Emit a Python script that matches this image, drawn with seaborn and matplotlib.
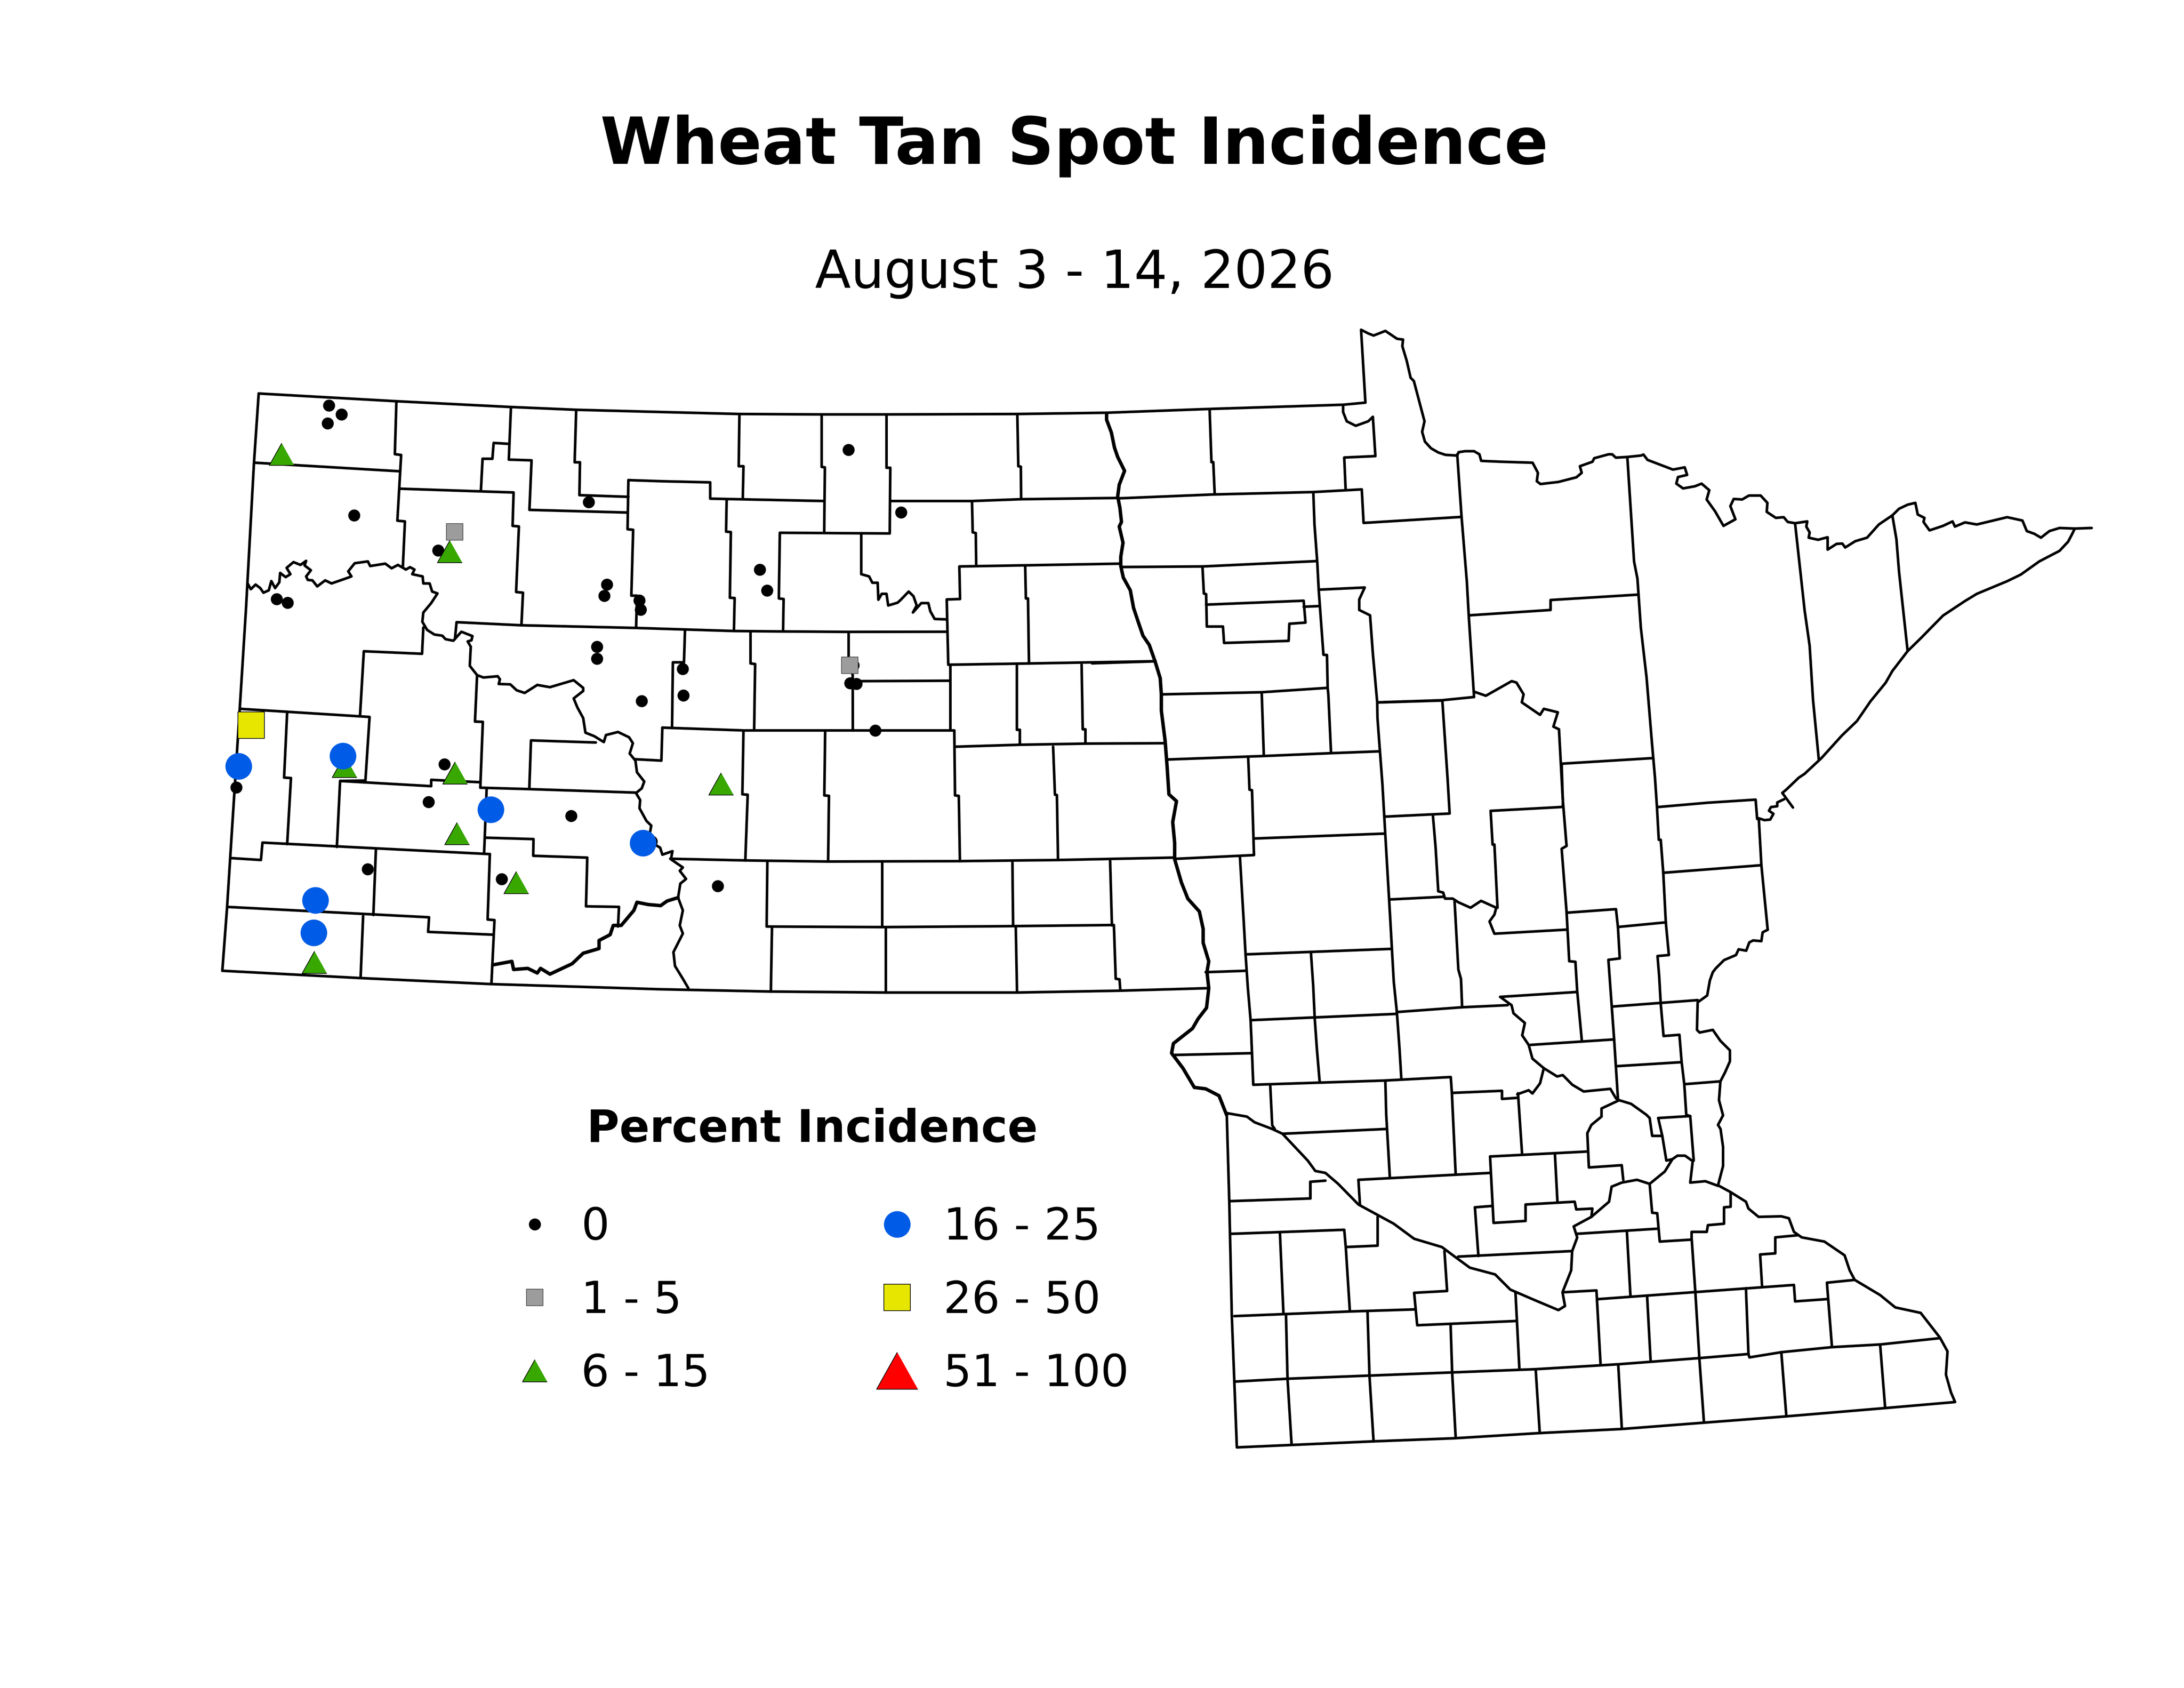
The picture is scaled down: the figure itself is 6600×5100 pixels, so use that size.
from matplotlib import pyplot as plt
from matplotlib.lines import Line2D
import pandas as pd
import seaborn as sns

# everything below is measured off the map, in a 1556 x 1202.4 page frame
title = 'Wheat Tan Spot Incidence'
subtitle = 'August 3 - 14, 2026'
legend_title = 'Percent Incidence'
class_labels = ['0', '1 - 5', '6 - 15', '16 - 25', '26 - 50', '51 - 100']

# state outline
north_border = [(184.3,280.3),(282.4,285.8),(363.6,289.9),(410.5,291.9),(471.5,293.5),(526.8,294.9),(585.4,295.2),(631.6,295.2),(724.8,294.9),(788.4,294),(861.8,291.3),(956.9,288.3),(972.8,286.8),(969.7,234.9),
    (974.8,237.5),(978.6,239),(982.5,237.5),(987,235.7),(995.3,241.3),(999.6,241.9),(999.1,246.6),(1002.2,256.9),(1005,269.1),(1007.3,271.4),(1014.9,300.1),(1013.2,307.6),(1015.2,314.6),(1019.5,319.3),(1024.7,322.3),(1029.8,324),(1038.2,324.5),(1039.2,322.1),(1043.8,321.4),(1050.2,321.4),(1054,323.6),(1055.3,328.3),(1069.4,328.9),(1091.9,329.6),(1095.7,336.8),(1094.9,342.8),(1097.5,344.8),(1110.3,343.3),(1123.1,340),(1126.9,336.8),(1125.6,332.1),(1134.6,328.9),(1135.8,326.4),(1146.1,323.6),(1148.6,323.6),(1151.2,326),(1159.4,325.5),(1169.1,324.5),(1170.9,323.8),(1173.8,327.6),(1191.9,334.5),(1200.3,332.9),(1202,338.3),(1195.5,339.8),(1194.3,344.5),(1199.1,347.9),(1207.5,346.4),(1212.3,344.5),(1217.8,349.2),(1215.9,355.8),(1221.9,364.2),(1227.9,374.6),(1236.4,369.9),(1232.8,360.5),(1235.2,355.4),(1241.2,355.8),(1246,353),(1254.4,353),(1259.2,358.2),(1258.7,364.6),(1265.2,368.9),(1270.8,368.4),(1273.7,371.8),(1278.9,372.7),(1287.6,371.4),(1286.9,375.1),(1289.3,379.3),(1288.6,383),(1295.3,384.5),(1302.1,382.7),(1302.1,391.5),(1308.5,387.4),(1312.6,387.2),(1314.6,390),(1321.8,385.5),(1330.2,383),(1338.6,373.6),(1348.2,367.1),(1353,362.4),(1359.1,359.5),(1364.6,358.2),(1366.3,366.5),(1371.1,368.9),(1370.4,371.8),(1374.7,377.8),(1384.3,374.6),(1391.1,371.4),(1392.8,375.1),(1400,372.1),(1408.4,373.6),(1430,368.4),(1440.9,370.8),(1444,378.3),(1449.3,380.2),(1454.1,383),(1460.1,378.3),(1467.3,376.1),(1478.2,376.5),(1490.2,376.1)]
lake_shore = [(1478.2,376.5),(1476,381),(1473.4,385.9),(1467.3,392.4),(1452.9,399.9),(1439.7,409.3),(1430,414),(1408.4,423),(1400,428.1),(1384.3,438.5),(1368.7,454.4),(1359.1,463.8),(1348.2,478),(1343.4,486.4),(1332.6,499.6),(1323,513.6),(1312.2,524),(1297.7,540),(1285.7,551.2),(1281.5,554),(1272.5,562.6),(1269.8,564.8),(1277.4,575.2)]
carlton_shore = [(1271.1,569.3),(1266.2,571.6),(1266.2,574.3),(1261.7,574.9),(1260.3,577.5),(1263.5,579.7),(1261.2,583.8),(1257.1,584.2),(1253.1,582.9)]
west_border = [(184.3,280.3),(180.9,330.4),(175.3,433),(170.8,504.9),(164,611.2),(161.8,646),(158.4,691.5)]
south_border = [(158.4,691.5),(256.9,696.7),(350.1,701),(471.5,704.7),(549.2,706.3),(631.2,707),(724.6,707),(797.6,705.7),(860.7,703.9)]
mn_south_west = [(874,793.5),(875.8,856),(877.6,937.2),(881.2,1031),(978.6,1026.7),(1036.4,1024.5),(1097,1020.8),(1155.5,1017.9),(1214,1013.4),(1272.7,1008.9),(1343.1,1003),(1392.9,998.7),(1390,991.9),(1386.4,979.2),(1387.5,962.6),(1382.1,952.8),(1368.4,935.2),(1350.3,931.3),(1339.5,922.5),(1321.4,911.7),(1317.8,904.9),(1314.2,894.2),(1299.8,884.4),(1283.6,881.4),(1278.1,877.5),(1274.5,867.8),(1269.1,866.4),(1252.9,866.8),(1245.7,860.9),(1243.9,856),(1233,849.2),(1224,844.3)]
st_croix = [(1224,844.3),(1227.6,830.6),(1227.6,817),(1225.8,804.2),(1224,801.3),(1227.6,794.5),(1224.7,783.7),(1225.7,770.3),(1229,763.9),(1232.5,756),(1232.5,748.2),(1225.7,741.4),(1220.3,733.6),(1210.9,735.5),(1209,733.6),(1209.5,714),(1216.3,709.1),(1218.2,698.4),(1220.3,692.5),(1222.4,689.8),(1228.3,683.9),(1236.8,680.3),(1238.7,676.2),(1244.1,677.2),(1246.3,671.3),(1249,669.9),(1254.9,670.4),(1255.8,664.1),(1259.4,662.3)]
red_river = [(788.4,294.4),(788.4,299),(791.8,308.1),(794,318.8),(796.3,325.5),(801.2,335.4),(797.4,345.3),(796.3,353.6),(797.9,361.8),(799,371.8),(797.4,375.1),(800.1,386.6),(798.5,396.6),(798.5,403.2),(800.3,411.4),(805.3,420.5),(807.6,433),(810.9,442.9),(814.3,452.8),(818.8,459.4),(822.9,471),(826.6,483.1),(827.4,494.7),(827.4,506.2),(830.1,527.7),(831.5,545.9),(832.8,565.8),(838.2,570.7),(835.5,585.6),(836.9,600.5),(836.9,612.1),(841.7,628.6),(846.3,640.2),(854.5,649.3),(857.2,661.7),(857.2,671.6),(861.2,684.8),(859.9,692.3),(861.2,703.9),(859.6,717.9),(853.6,725.7),(849.6,732.6),(836,743.3),(834.7,750.2),(842.8,760.9),(850.9,774.6),(859,775.6),(868.5,780.5),(873.9,794.2)]
outline_lines = [north_border, lake_shore, carlton_shore, west_border, south_border, mn_south_west, st_croix]

# rivers that split counties
missouri_river = [(176.4,415.6),(178.7,419.7),(182.1,416.4),(185.4,418.9),(187.7,422.2),(191.5,420.5),(193.3,413.9),(196,418.9),(199,414.8),(199.6,408.1),(203.5,411.1),(206.9,409),(204.2,404.5),(209.1,400.4),(214.1,402.4),(218.1,399.5),(217,402.8),(221.5,406.2),(218.1,410.6),(219.3,413.1),(222.6,413.4),(226,417.7),(231.7,413.4),(236.2,415.6),(245.7,412.3),(250.4,410.6),(248.1,407),(252.7,401.2),(262.1,399.9),(263.7,403.2),(274.5,401.5),(279,404.8),(283.5,402.4),(289.2,405.7),(292.1,404),(295.3,405.7),(293.7,409),(301.1,410.6),(301.6,415.6),(306.1,415.6),(307.9,421.4),(311.7,422.7),(307.2,429.6),(301.6,436.3),(300.9,442.9),(304.3,448.7),(309.5,452),(315.1,452.8),(317.4,455.3),(323,456.4),(328.7,450),(336.6,453.1),(335.9,456.1),(333.2,456.9),(335.4,460.7),(334.7,474.3),(339.9,480.9),(344.4,482.6),(354.6,481.7),(356.2,483.9),(355.3,487.2),(363.6,487.5),(368.1,491.7),(373.8,493.6),(382.8,487.9),(391.8,489.5),(408.7,484.5),(415.5,490),(415.5,492.2),(408.7,497.5),(411.4,504),(415.5,511.5),(417.1,521.9),(423.4,524.4),(430.2,528.6),(431.7,523.6),(440.3,521.4),(448.2,525.2),(450.9,529.4),(448.6,536.8),(452.7,541.8),(453.8,550.1),(459,556.7),(457.2,561.6),(453.1,564.9),(456.1,569.9),(455.6,575.7),(460.6,584.8),(464,588.1),(462.9,593.9),(467.4,602.1),(470.3,603.8),(471.9,608.8),(479.1,606.3),(478,612.1),(486.5,617.9),(484.3,620.3),(488.8,626.1),(484.7,629.4),(483.1,639.4),(486.5,648.5),(484.3,659.2),(486.5,665),(479.8,678.2),(480.9,688.1),(486.5,697.2),(490.4,703.9)]
cannonball_river = [(351.2,687.3),(364.7,684.8),(365.9,690.6),(376,689.8),(382.8,693.1),(385.1,689.8),(391.8,693.9),(407.6,686.5),(415.5,679),(426.8,675.7),(426.8,669.9),(434.7,665.8),(436.9,659.2),(442.6,659.2),(451.6,648.5),(453.8,642.7),(461.7,644.3),(470.7,645.1),(475.3,641.8),(483.1,639.4)]
sheyenne_river = [(613.6,380.5),(613.6,409),(619.2,410.6),(621.5,415.1),(625.3,415.1),(625.8,427.2),(628.2,423),(631.6,423),(632.8,431.3),(639.5,429.3),(641.8,427.2),(647.4,421.4),(650.8,424.7),(653.1,431.3),(650.4,436.3),(656.4,429.6),(661.4,429.6),(662.8,435.4),(665.9,440.9),(674,441.2)]
minnesota_river = [(874,792.9),(888.4,795.4),(893.8,799.4),(906.4,804.2),(913.7,807.6),(931.7,826.7),(937.1,834.1),(944.3,835.5),(953.4,843.3),(967.8,858),(984,866.8),(993,871.7),(1007.5,882.4),(1027.3,888.3),(1036.4,895.1),(1047.2,903),(1065.2,907.8),(1076,918.6),(1094.1,926.4),(1110.3,933.2),(1115,930.3),(1113.2,920.5),(1119.4,904.9),(1120.1,891.2),(1123.7,881.5),(1121.2,873.6),(1133.8,866.8),(1146.4,856),(1148.2,845.3),(1155.4,842.4),(1166.3,840.4),(1175.3,843.3),(1186.1,834.5),(1191.5,825.7),(1195.1,823.2),(1200.5,823.2),(1206,827.1),(1204.2,842.4),(1215,841.4),(1224,844.7)]
mississippi_river = [(1068.8,710.1),(1076.9,716),(1078.3,721.8),(1086.4,728.7),(1084.5,737.5),(1089.1,744.3),(1091.8,754.1),(1099.9,760.9),(1109.4,766.8),(1113.4,765.8),(1120.2,772.7),(1128.3,777.5),(1147.3,775.6),(1151.3,782.4),(1153.6,783.7),(1162.1,786.3),(1173,794.1),(1175.3,796.4),(1177.1,809.1),(1184.3,809.1),(1187.2,826.7),(1191.5,825.7)]
crow_river = [(1081,779.5),(1089.1,776.6),(1091.8,778.9),(1097.2,771.7),(1099.9,760.9)]
metro_loop = [(1153.6,783.7),(1141,789.6),(1141,795.4),(1133.8,801.3),(1130.9,807.2),(1132,831.6),(1155.4,830),(1156.5,840.4)]
wadena_river = [(1050.2,492.7),(1058.6,495.6),(1077,485.2),(1080.4,486.2),(1085.5,494.6),(1084.2,500.3),(1097.2,509.2),(1099.9,504.9),(1109.9,507.4),(1106.7,517.6),(1110.7,519.5)]
mille_lacs_river = [(1024.7,634.9),(1028.2,635.8),(1029.5,640.1),(1035,640.1),(1039,642.7),(1047.7,646.6),(1055.2,641.7),(1066,646.6),(1064.7,651.5),(1061.2,656.4),(1064.7,665.1),(1116.1,662.2)]
river_lines = [missouri_river, sheyenne_river, minnesota_river, mississippi_river, crow_river, metro_loop, wadena_river, mille_lacs_river]
jagged_lines = [red_river, cannonball_river]

# North Dakota county lines
nd_county_lines = [
    [(181.6,329.6),(284.7,335.7)],
    [(282.4,286.6),(281.3,323.5),(285.8,324.1),(283.1,370.9),(288.5,371.4),(287,404)],
    [(284.7,348.1),(365.9,350.8),(365.2,374.6),(369.7,375),(367.7,421.7),(372.6,422.2),(371.5,445.4)],
    [(342.6,349.9),(343.8,326.8),(350.8,326.8),(351.7,315.5),(363,316.2)],
    [(364,290.7),(362.5,327.4),(378.7,327.9),(377.2,363.2),(447.1,365.1)],
    [(410.5,292.4),(409.4,329.3),(413.2,329.3),(412.8,352.7),(447.7,353.9)],
    [(447.7,342),(471.5,342.8),(506,343.6),(506,355.2),(587.2,356.9)],
    [(447.7,342),(447.1,377),(451.1,377.4),(449.8,424.3),(453.8,424.3),(453.2,447)],
    [(301.6,447),(300.7,465.7),(259.2,463.9),(256.5,509.8)],
    [(170.8,504.9),(263.3,510.7),(260.3,556.7)],
    [(204.6,507),(202.4,553.9),(207.3,554.2),(204.6,601.3)],
    [(324.1,455.3),(325.3,443.2),(371.5,445.4),(453.2,447.3),(523.4,449.5),(558.3,449.8),(604.6,450.1),(673.8,450)],
    [(339.9,480.9),(338.4,514),(344,514.2),(342.2,560.8)],
    [(260.3,556),(242.3,556.3),(307.2,560),(307.2,555.5),(342.2,557.2)],
    [(342.2,561.1),(377.1,562.1),(453.1,564.6)],
    [(377.1,562.1),(378.3,527.4),(424.5,528.9)],
    [(242.3,556.3),(240,603.3)],
    [(164,611.2),(185.9,612.6),(187,600.2),(349,608.4)],
    [(346.7,562.1),(344.9,607.9)],
    [(345.6,596.7),(380.1,597.7),(379.9,609.6),(418.4,610.9),(417.5,645.6),(441,646),(440.3,660)],
    [(267.8,605.5),(266,651.8)],
    [(161.8,646),(305.7,653.4),(305,663.8),(351.2,665.8)],
    [(349,608.4),(347.4,655),(352.3,655.4),(350.1,701)],
    [(258.7,652.6),(256.9,696.7)],
    [(477.5,611.7),(531,612.9),(590,613.7),(683.9,613.4),(753.8,612.6),(835.5,610.9)],
    [(526.8,295.4),(526.3,332.1),(529.7,332.1),(529.2,354.9)],
    [(585.4,295.4),(585.4,332.6),(587.7,332.9),(587.2,379.2)],
    [(631.6,295.4),(631.6,333.2),(634.3,333.2),(633.9,380),(555.6,379.5),(554.9,426.3),(558.3,426.7),(557.9,449.5)],
    [(517.7,356),(517.3,378.7),(520.7,379),(520,425.8),(523.4,426),(522.9,449)],
    [(634.3,356.9),(692.5,356.9),(727.5,355.6),(796.3,354.7)],
    [(692.5,356.9),(693,379.2),(695.2,379.7),(695.5,402.9)],
    [(724.8,295.2),(725.5,332.1),(727.3,332.4),(727.5,355.6)],
    [(798.5,401.5),(683.5,403.5),(684,426.7),(674.5,427),(675.6,473.5),(733.1,472.6),(823.3,471)],
    [(730.4,403.2),(730.9,426.3),(732.4,426.3),(733.1,472.6)],
    [(604.6,450.1),(604.6,468),(607.5,480.9),(607.6,520.3)],
    [(534.7,450.3),(534.7,472.6),(538,473),(537.3,519.5)],
    [(488,449.5),(487.3,471.8),(479.4,471.8),(478.8,518.6)],
    [(611.3,485.2),(676.3,484.9)],
    [(471.9,518.3),(529.7,520.3),(607.6,520.3),(679.9,520.3),(680.4,566.6),(683.1,566.9),(683.9,613.4)],
    [(471.9,518.3),(471.2,541.8),(452.3,540.8)],
    [(529.7,520.3),(528.9,565.8),(532.7,566.1),(531,612.9)],
    [(587.9,520.6),(587.3,566.6),(590.6,566.9),(590,613.4)],
    [(677.2,474),(677.2,520.3)],
    [(680.4,531.9),(726.7,530.5),(773.3,529.7),(828.8,529.4)],
    [(724.5,474),(724.5,519.8),(726.7,519.8),(726.7,530.5)],
    [(770.6,473.5),(771.4,519.5),(773.3,519.5),(773.3,529.7)],
    [(750.3,531.9),(751.6,566.1),(753,566.3),(753.8,612.6)],
    [(546.7,613.7),(546.2,660),(628.5,660.4),(721.8,659.7),(793.6,658.9),(794.9,697.2),(797.6,697.6),(798.2,705.5)],
    [(628.5,614.5),(628.5,660.4)],
    [(721.3,614.5),(721.8,659.7)],
    [(790.9,613.2),(792.2,659.2)],
    [(550,660.9),(549.2,706.3)],
    [(631.2,661.7),(631.2,707)],
    [(723.7,660.9),(724.6,707)],
]

# Minnesota county lines
mn_county_lines = [
    [(861.8,291.7),(863.1,329.2),(864.4,329.2),(865.4,351.8)],
    [(796.3,355),(864.9,352.2),(935.7,350.5),(970.2,348.6),(971.5,372.5),(1041.3,368.2)],
    [(956.9,288.3),(956.9,293.5),(959.5,300.1),(965.9,303.3),(974.8,300.1),(978.1,296.9),(979.9,324.9),(957.7,325.9),(958.7,348.6)],
    [(1038.2,323.6),(1041.3,368.2),(1045.1,414.8),(1046.4,438.3),(1050.2,496.5)],
    [(935.7,351.4),(936.5,373.4),(938.5,400.7),(939.5,420),(942.9,466.4),(945.4,466.6),(945.9,489.9),(946.4,495.1),(948.3,536.1)],
    [(798.5,403.9),(856.7,403.5),(937.8,399.7)],
    [(856.7,403.5),(857.7,422.8),(859.3,423.2),(859.8,446.3),(871.3,446.3),(872.1,458),(918.1,456.5),(918.6,444.3),(930.1,443.5),(928.8,427.9),(859.3,430.7)],
    [(928.8,432.2),(940.3,431.7)],
    [(940.3,420),(972.3,418.5),(968.4,427),(968.4,434.5),(976.1,438.3),(978.1,465.5),(981.2,500.3),(981.4,511.7),(984.9,558.6),(987.6,605.5),(990.3,651.5),(993,699.4),(995.2,720.9),(997.1,747.2),(998.4,768.7)],
    [(1046.9,438.3),(1104.7,434.5),(1104.7,427.4),(1166.5,423.6)],
    [(1159.4,325.5),(1164.2,400),(1166.6,412.2),(1169,446.9),(1173.1,482.6),(1176.9,528.7),(1179.1,554),(1180.5,574.8),(1181.8,598.2),(1183.2,598.2),(1185,621.7),(1186.8,656.9),(1189,680.3),(1180.9,681),(1182.1,695.5),(1183.2,715),(1185.2,738),(1196.5,737.1),(1198.1,756.6),(1200,772.6),(1201.4,794.2),(1204.2,795),(1206.7,826.7)],
    [(1112.6,544),(1177.8,540)],
    [(1180.9,574.9),(1216.6,571.8),(1250.8,569.6),(1251.9,583.3),(1253.1,583.8),(1254.9,616.3),(1259.4,662.3)],
    [(1185,621.7),(1254.9,616.3)],
    [(1278.9,372.7),(1285.7,434.7),(1289.3,460.1),(1291.7,498.6),(1295.8,540.9)],
    [(1348.2,367.1),(1351.1,384),(1353,407.5),(1359.1,463.8)],
    [(822.7,471.1),(778,472.5)],
    [(827.8,494.6),(898.9,493.1),(945.4,490)],
    [(832,541),(901,538.5),(948.3,536.5),(982.7,535.2)],
    [(898.9,493.1),(900.4,538.1)],
    [(981.2,500.3),(1027.2,498.8),(1050.2,496.5)],
    [(1027.6,499),(1031.4,555.7),(1032.8,579.5),(986.8,581.7)],
    [(889.3,540),(890.2,562.5),(892,562.9),(893.4,609.1),(836.6,611.8)],
    [(893.4,597.3),(986.2,593.8)],
    [(1020.9,581.1),(1022.8,603.6),(1024.7,634.9)],
    [(1110.7,519.5),(1113.4,569.4),(1116.1,602.6),(1112.6,604.6),(1116.1,649.5),(1118,684.7),(1122.4,685.1),(1123.7,706.2),(1127,741.4)],
    [(1062,577.6),(1113.4,574.8)],
    [(1062,577.6),(1063.4,601.6),(1064.7,601.6),(1066.9,646.6)],
    [(990.3,640.7),(1028.2,638.8)],
    [(1036.3,641.7),(1039,690.6),(1040.9,697.4),(1041.7,717.5)],
    [(1116.9,650.1),(1151.3,647.6),(1152.7,660.3),(1154,682.7),(1145.9,683.7),(1147.8,710.1),(1150,740.4),(1152.7,782.4)],
    [(1152.7,660.3),(1187,657)],
    [(1068.8,710.1),(1123.7,706.6)],
    [(995.2,720.9),(1041.7,717.5),(1074.2,716)],
    [(1090.4,744.3),(1150,740.4)],
    [(1148.6,717),(1209.5,712.4)],
    [(1152.7,759.4),(1198.1,756.6)],
    [(1200,772.3),(1225.2,770.3)],
    [(888,679.8),(991.1,675.9)],
    [(934,678.8),(935.6,702.3),(936.7,725.8),(938.3,748.2),(940.2,770.7)],
    [(883.4,610.4),(886.1,656.4),(887.4,679.8),(889,703.3),(891,726.7),(892,750.2),(892.9,772.7),(986.2,769.7),(1033.6,767.2),(1034.4,778.5),(1070.1,777),(1070.1,782.8),(1081,782)],
    [(859,692.5),(888,691.5)],
    [(891,726.7),(995.2,722.2)],
    [(836,751.5),(892,750.2)],
    [(905,773.6),(906.4,801.6),(908.2,804.2)],
    [(987,770),(987.6,793.5),(990.2,838.8)],
    [(1034.4,778.5),(1037.1,836.5)],
    [(1081.5,778.8),(1084.4,821.8)],
    [(913.7,807.6),(987.6,804.2)],
    [(967.8,840.4),(1061.6,835.5)],
    [(967.8,840.4),(968.9,858)],
    [(1061.6,823.8),(1130.2,820.3)],
    [(1061.6,823.8),(1064.1,871.1),(1086.9,869.7),(1086.9,858),(1121.9,856),(1123,861.5),(1134.5,860.9),(1133.8,866.8)],
    [(1107.8,821.8),(1109.6,856)],
    [(1050.8,860),(1063.4,859)],
    [(1050.8,860),(1053.3,894.7)],
    [(1038.9,895.1),(1119.4,891.2)],
    [(981.5,866.8),(981.5,887.3),(958.8,888.3),(957.7,876),(876.8,878.9)],
    [(911.9,878.5),(914.4,935.8)],
    [(958.8,888.3),(961.7,933.8)],
    [(876.1,855.6),(933.5,853.7),(933.5,841.8),(944.3,841)],
    [(879.4,937.5),(961.3,934.2),(1008.6,932.7)],
    [(1029.1,891.2),(1031,919.6),(1007.5,920.9),(1009.7,944),(1079.7,941)],
    [(974.3,934.6),(975.7,980.2),(978.6,1026.7)],
    [(916.2,936.6),(917.3,982.1),(920.2,1029)],
    [(880.5,984.1),(917.3,982.1),(1034.6,977.6),(1094.1,975.3),(1152.9,971.8),(1210.7,967.4),(1245.7,964.5),(1246.4,966.9),(1269.1,963.2),(1305.2,959.6),(1339.5,957.7),(1382.1,953.2)],
    [(1033.5,944),(1034.6,977.6),(1037.1,1024.1)],
    [(1094.1,975.3),(1097,1020.8)],
    [(1152.9,971.8),(1155.5,1017.9)],
    [(1210.7,967.4),(1214,1013.4)],
    [(1269.1,963.2),(1272.7,1008.9)],
    [(1339.5,957.7),(1343.1,1003)],
    [(1079.7,920.5),(1082.5,975.3)],
    [(1113.9,920.5),(1137.4,919.2),(1140.3,971.4)],
    [(1138.5,925.4),(1278.1,915.3),(1278.9,927),(1301.6,925.4)],
    [(1173.5,923.5),(1176,969.4)],
    [(1159.1,877.5),(1161.6,922.9)],
    [(1123,878.9),(1181.4,875.2)],
    [(1175.3,843.3),(1177.1,863.9),(1180.7,864.2),(1182.5,884.4),(1205.3,883),(1207.8,919.6),(1210.7,967.4)],
    [(1205.3,877.5),(1216,877.5),(1216.8,872.7),(1228.3,871.7),(1228.3,860),(1233,859.6),(1233,849.2)],
    [(1243.9,917.6),(1245.7,964.5)],
    [(1255.4,916.2),(1254,893.6),(1264.8,892.8),(1264.8,881.4),(1280.7,879.9)],
    [(1301.6,913.7),(1321.4,911.7)],
    [(1301.6,913.7),(1305.2,959.6)],
    [(1181.4,796.4),(1204.2,795)],
    [(1181.4,796.4),(1184.3,809.1)],
    [(1205.3,883),(1205.3,877.5)],
    [(933.5,841.8),(933.5,853.7)],
    [(1113.4,574.8),(1113.4,569.4)],
    [(981.4,500.4),(1027.6,499)],
    [(1112.6,544),(1113.4,569.4)],
]

# survey points, one pair of lists for each incidence class
zero_x = [234.4,243.4,233.3,252.2,312.2,419.3,432.4,430.4,455.4,456.5,197,204.8,425.4,425.2,457.2,486.3,486.8,604.6,642,541.4,546.6,605.7,610.2,608,623.6,511.3,168.3,316.7,305.4,407,261.9,357.3,464.2]
zero_y = [288.9,295.2,301.6,367.1,392.1,357.7,416.4,424.4,427.7,434.3,426.8,429.3,460.7,469.2,499.4,476.4,495.3,320.5,365,405.7,420.5,486.7,487.2,473.8,520.3,631.1,560.8,544.3,571.2,581.1,619.2,626.1,599.2]
low_x = [323.9,605.5]
low_y = [378.9,474]
mid_x = [200.6,320.3,245.4,324.1,325.5,367.7,224,513.7]
mid_y = [323.4,392.9,545.9,550.4,593.7,628.6,685.3,558.2]
high_x = [169.9,244.3,349.6,458.1,224.7,223.6]
high_y = [545.9,538.6,576.7,600.5,641.3,664.5]
severe_x = [178.9]
severe_y = [516.5]

tri = [(0, 0.447), (-0.5, -0.447), (0.5, -0.447)]
class_colors = ['#000000', '#9C9C9C', '#38A800', '#005CE6', '#E6E600', '#FF0000']
class_edges = ['#000000', '#4E4E4E', '#000000', '#005CE6', '#000000', '#000000']
class_markers = ['o', 's', tri, 'o', 's', tri]
class_sizes = [4.1, 6.1, 9, 9.4, 9.5, 15]  # points


def lines_to_frame(lines):
    frames = []
    for i, line in enumerate(lines):
        frames.append(pd.DataFrame(line, columns=['x', 'y']).assign(line_id=i))
    return pd.concat(frames, ignore_index=True)


sns.set_style('white')
plt.rcParams['font.family'] = ['DejaVu Sans']
plt.rcParams['text.color'] = 'black'

fig = plt.figure(figsize=(11, 8.5), dpi=600)
ax = fig.add_axes([0, 0, 1, 1])

map_df = lines_to_frame(outline_lines + river_lines + nd_county_lines + mn_county_lines)
sns.lineplot(data=map_df, x='x', y='y', units='line_id', estimator=None, sort=False,
             color='black', linewidth=0.95, legend=False, ax=ax, solid_capstyle='round', zorder=1)
sns.lineplot(data=lines_to_frame(jagged_lines), x='x', y='y', units='line_id', estimator=None, sort=False,
             color='black', linewidth=1.25, legend=False, ax=ax, solid_capstyle='round', zorder=1)

points = [(zero_x, zero_y), (low_x, low_y), (mid_x, mid_y), (high_x, high_y), (severe_x, severe_y)]
for i, (px, py) in enumerate(points):
    sns.scatterplot(x=px, y=py, marker=class_markers[i], s=class_sizes[i] ** 2, color=class_colors[i],
                    edgecolor=class_edges[i], linewidth=0.25, ax=ax, zorder=2 + i, legend=False)

ax.set_xlim(0, 1556)
ax.set_ylim(1202.4, 0)
ax.axis('off')

ax.text(765.3, 116.8, title, ha='center', va='baseline', fontsize=23.5, fontweight='bold')
ax.text(765.6, 205.2, subtitle, ha='center', va='baseline', fontsize=19)
ax.text(578.6, 813.3, legend_title, ha='center', va='baseline', fontsize=16.2, fontweight='bold')

handles = []
for i, lab in enumerate(class_labels):
    handles.append(Line2D([], [], linestyle='none', marker=class_markers[i], markersize=class_sizes[i],
                          markerfacecolor=class_colors[i], markeredgecolor=class_edges[i], markeredgewidth=0.25, label=lab))
ax.legend(handles=handles, ncols=2, loc='upper left', bbox_to_anchor=(363.3, 859), bbox_transform=ax.transData,
          frameon=False, fontsize=16.1, borderpad=0, borderaxespad=0, handlelength=1.12, handletextpad=0.48,
          columnspacing=3.66, labelspacing=0.68)

fig.savefig('out.png', dpi=600, facecolor='white')
